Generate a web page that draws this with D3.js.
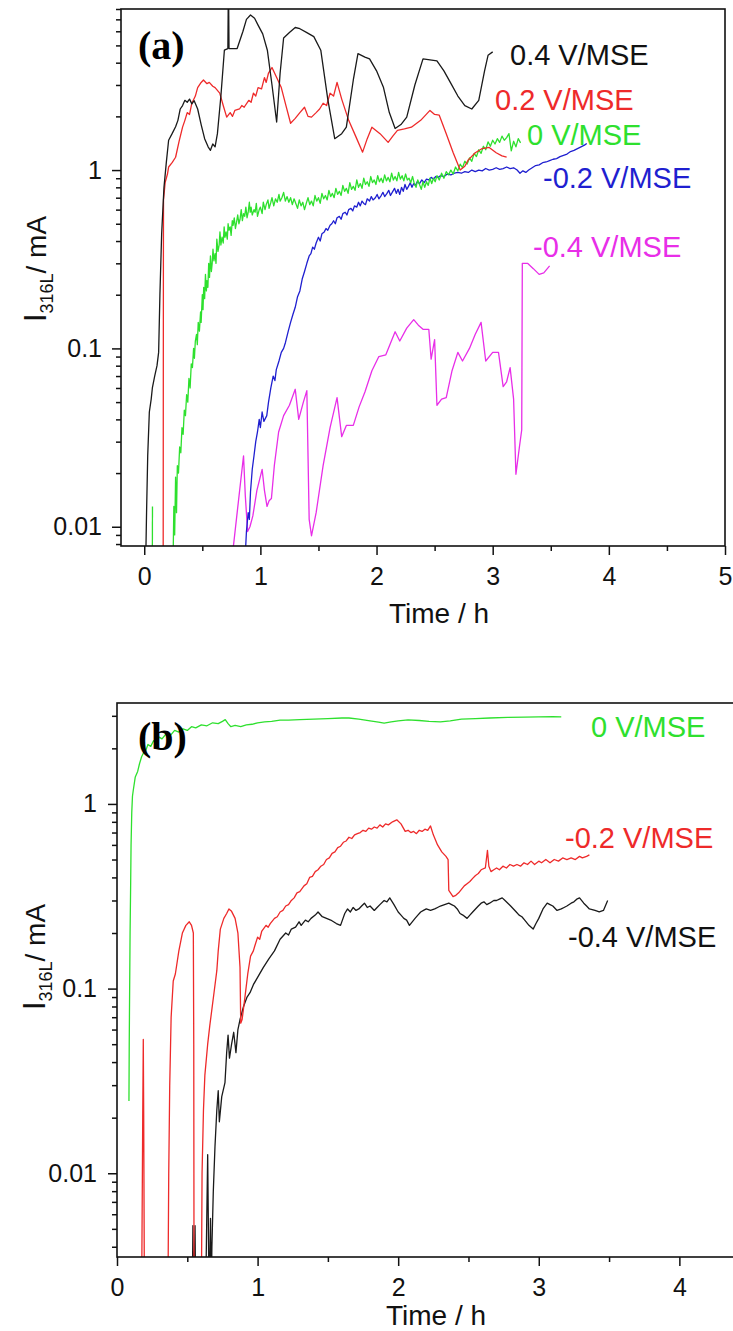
<!DOCTYPE html>
<html>
<head>
<meta charset="utf-8">
<script src="https://cdn.jsdelivr.net/npm/d3@7"></script>
<style>
  body { margin: 0; background: #fff; }
  svg { display: block; font-family: 'Liberation Sans', Arial, sans-serif; }
</style>
</head>
<body>
<svg></svg>
<script>
const width = 733;
const height = 1331;

// ---- panel (a): [time / h, I316L / mA] ----
const a_p04 = [[0.01,0.005],[0.02,0.012],[0.03,0.025],[0.044,0.044],[0.06,0.052],[0.07,0.06],[0.09,0.07],[0.11,0.08],[0.124,0.095],[0.135,0.2],[0.15,0.44],[0.17,0.8],[0.19,1.1],[0.21,1.47],[0.24,1.6],[0.27,1.75],[0.29,1.9],[0.31,2.2],[0.33,2.3],[0.35,2.46],[0.37,2.4],[0.39,2.5],[0.41,2.35],[0.43,2.45],[0.46,2.2],[0.49,1.8],[0.52,1.5],[0.55,1.35],[0.57,1.29],[0.59,1.4],[0.61,1.35],[0.63,1.6],[0.66,2.6],[0.69,4.7],[0.72,4.8],[0.725,12],[0.73,4.8],[0.8,4.8],[0.85,6.0],[0.88,7.0],[0.915,7.4],[0.95,7.1],[0.98,6.5],[1.02,5.8],[1.06,4.7],[1.1,3.0],[1.14,1.86],[1.17,3.5],[1.2,5.5],[1.25,5.9],[1.3,6.3],[1.34,6.2],[1.4,5.9],[1.46,5.6],[1.52,4.7],[1.58,2.5],[1.64,1.5],[1.7,1.6],[1.74,1.74],[1.8,3.2],[1.84,4.5],[1.9,4.3],[1.94,4.2],[2.0,3.6],[2.06,2.9],[2.11,2.1],[2.16,1.71],[2.21,1.8],[2.26,1.98],[2.33,3.0],[2.4,4.2],[2.46,4.15],[2.52,4.1],[2.58,3.6],[2.64,3.06],[2.7,2.6],[2.76,2.3],[2.82,2.2],[2.88,2.46],[2.93,3.6],[2.96,4.4],[3.0,4.6]];

const a_p02 = [[0.163,0.005],[0.165,0.3],[0.166,0.68],[0.18,0.85],[0.2,0.95],[0.21,1.04],[0.24,1.1],[0.27,1.18],[0.3,1.45],[0.33,1.74],[0.35,1.9],[0.37,2.1],[0.39,2.05],[0.41,2.37],[0.44,2.6],[0.46,2.9],[0.49,3.1],[0.51,3.2],[0.54,3.05],[0.56,3.1],[0.59,2.95],[0.61,2.9],[0.65,2.7],[0.68,2.3],[0.71,1.98],[0.74,2.1],[0.76,2.0],[0.78,2.16],[0.82,2.2],[0.84,2.3],[0.86,2.25],[0.9,2.46],[0.92,2.4],[0.94,2.7],[0.96,2.6],[0.98,2.9],[1.01,2.85],[1.035,3.3],[1.05,3.1],[1.07,3.5],[1.1,3.76],[1.14,3.3],[1.18,2.9],[1.22,2.3],[1.26,1.83],[1.3,1.95],[1.34,2.1],[1.38,2.25],[1.41,2.0],[1.44,1.98],[1.48,2.1],[1.51,2.2],[1.54,2.37],[1.57,2.3],[1.6,2.7],[1.63,2.6],[1.66,3.1],[1.7,2.5],[1.76,1.9],[1.82,1.55],[1.88,1.26],[1.92,1.5],[1.96,1.74],[2.03,1.6],[2.1,1.43],[2.14,1.55],[2.18,1.67],[2.24,1.7],[2.3,1.74],[2.38,1.9],[2.46,2.16],[2.5,2.05],[2.54,2.03],[2.6,1.6],[2.66,1.25],[2.72,1.0],[2.76,1.05],[2.79,1.14],[2.85,1.25],[2.91,1.32],[2.97,1.34],[3.03,1.25],[3.08,1.2],[3.12,1.18]];

const a_0 = [[0.25,0.0077],[0.255,0.013],[0.262,0.009],[0.27,0.019],[0.278,0.012],[0.285,0.022],[0.295,0.02],[0.305,0.028],[0.315,0.026],[0.325,0.036],[0.335,0.033],[0.345,0.045],[0.355,0.042],[0.365,0.055],[0.375,0.05],[0.385,0.068],[0.395,0.06],[0.405,0.082],[0.415,0.078],[0.425,0.1],[0.432,0.088],[0.44,0.11],[0.45,0.12],[0.457,0.105],[0.465,0.14],[0.475,0.125],[0.485,0.16],[0.49,0.14],[0.5,0.2],[0.506,0.165],[0.512,0.22],[0.52,0.19],[0.527,0.26],[0.535,0.21],[0.54,0.24],[0.548,0.22],[0.555,0.3],[0.562,0.25],[0.57,0.33],[0.578,0.27],[0.585,0.3],[0.592,0.36],[0.6,0.31],[0.61,0.34],[0.618,0.3],[0.625,0.41],[0.635,0.35],[0.645,0.38],[0.652,0.45],[0.66,0.38],[0.67,0.42],[0.68,0.39],[0.688,0.48],[0.695,0.42],[0.705,0.45],[0.715,0.41],[0.722,0.5],[0.73,0.46],[0.74,0.48],[0.748,0.43],[0.758,0.52],[0.765,0.49],[0.775,0.54],[0.785,0.47],[0.795,0.51],[0.805,0.56],[0.815,0.5],[0.825,0.53],[0.835,0.6],[0.845,0.52],[0.855,0.57],[0.865,0.55],[0.875,0.62],[0.885,0.54],[0.895,0.58],[0.905,0.66],[0.912,0.58],[0.92,0.62],[0.93,0.56],[0.945,0.6],[0.955,0.58],[0.965,0.65],[0.975,0.55],[0.99,0.6],[1.0,0.62],[1.015,0.57],[1.025,0.66],[1.04,0.6],[1.05,0.64],[1.065,0.68],[1.075,0.61],[1.09,0.66],[1.1,0.7],[1.115,0.63],[1.13,0.69],[1.145,0.66],[1.16,0.73],[1.17,0.67],[1.185,0.7],[1.2,0.75],[1.215,0.67],[1.23,0.71],[1.245,0.66],[1.26,0.7],[1.275,0.64],[1.29,0.69],[1.305,0.65],[1.32,0.61],[1.335,0.68],[1.35,0.63],[1.365,0.66],[1.38,0.6],[1.395,0.65],[1.41,0.7],[1.425,0.64],[1.44,0.67],[1.455,0.63],[1.47,0.72],[1.485,0.67],[1.5,0.7],[1.515,0.65],[1.53,0.74],[1.545,0.69],[1.56,0.72],[1.575,0.68],[1.59,0.77],[1.605,0.71],[1.62,0.74],[1.635,0.7],[1.65,0.79],[1.665,0.73],[1.68,0.76],[1.695,0.72],[1.71,0.82],[1.725,0.76],[1.74,0.79],[1.755,0.74],[1.77,0.85],[1.785,0.78],[1.8,0.81],[1.815,0.77],[1.83,0.88],[1.845,0.8],[1.86,0.84],[1.875,0.79],[1.89,0.9],[1.905,0.83],[1.92,0.86],[1.935,0.81],[1.95,0.92],[1.965,0.85],[1.98,0.88],[1.995,0.83],[2.01,0.93],[2.025,0.86],[2.04,0.9],[2.055,0.85],[2.07,0.94],[2.085,0.87],[2.1,0.91],[2.115,0.86],[2.13,0.96],[2.145,0.88],[2.16,0.92],[2.175,0.87],[2.19,0.97],[2.205,0.89],[2.22,0.93],[2.235,0.87],[2.25,0.95],[2.265,0.88],[2.28,0.9],[2.295,0.85],[2.31,0.92],[2.325,0.84],[2.34,0.8],[2.355,0.88],[2.37,0.83],[2.385,0.78],[2.4,0.86],[2.415,0.8],[2.43,0.86],[2.445,0.82],[2.46,0.9],[2.475,0.84],[2.49,0.9],[2.505,0.86],[2.52,0.93],[2.54,0.88],[2.56,0.96],[2.58,0.9],[2.6,0.98],[2.62,0.94],[2.64,1.0],[2.66,0.95],[2.68,1.04],[2.7,0.99],[2.72,1.08],[2.74,1.03],[2.76,1.12],[2.78,1.08],[2.8,1.17],[2.82,1.12],[2.84,1.24],[2.86,1.19],[2.88,1.3],[2.9,1.24],[2.92,1.36],[2.94,1.3],[2.96,1.44],[2.98,1.36],[3.0,1.47],[3.02,1.4],[3.04,1.5],[3.06,1.43],[3.08,1.55],[3.1,1.47],[3.12,1.52],[3.14,1.6],[3.16,1.28],[3.18,1.45],[3.2,1.35],[3.22,1.5],[3.24,1.42]];
const a_0blip = [[0.07,0.0077],[0.071,0.013]];

const a_m02 = [[0.87,0.007],[0.88,0.0094],[0.895,0.012],[0.905,0.011],[0.915,0.0157],[0.93,0.021],[0.945,0.025],[0.96,0.03],[0.975,0.034],[0.99,0.04],[1.0,0.036],[1.015,0.044],[1.03,0.039],[1.055,0.042],[1.07,0.05],[1.09,0.06],[1.11,0.07],[1.125,0.066],[1.137,0.076],[1.16,0.085],[1.18,0.095],[1.2,0.1],[1.216,0.108],[1.24,0.125],[1.26,0.14],[1.28,0.155],[1.3,0.17],[1.32,0.195],[1.34,0.21],[1.36,0.245],[1.38,0.27],[1.4,0.3],[1.42,0.33],[1.435,0.34],[1.45,0.37],[1.465,0.36],[1.48,0.39],[1.5,0.42],[1.515,0.4],[1.53,0.44],[1.55,0.45],[1.565,0.47],[1.58,0.46],[1.6,0.49],[1.615,0.5],[1.63,0.52],[1.645,0.5],[1.66,0.54],[1.68,0.55],[1.695,0.53],[1.71,0.57],[1.73,0.58],[1.745,0.56],[1.76,0.6],[1.78,0.61],[1.795,0.59],[1.81,0.63],[1.83,0.62],[1.845,0.66],[1.86,0.63],[1.875,0.67],[1.89,0.65],[1.905,0.64],[1.92,0.69],[1.94,0.67],[1.955,0.71],[1.97,0.68],[1.99,0.7],[2.005,0.73],[2.02,0.69],[2.04,0.72],[2.055,0.75],[2.07,0.71],[2.09,0.74],[2.105,0.77],[2.12,0.72],[2.14,0.76],[2.155,0.79],[2.17,0.74],[2.185,0.78],[2.2,0.73],[2.215,0.8],[2.23,0.76],[2.245,0.83],[2.26,0.78],[2.275,0.81],[2.29,0.85],[2.305,0.8],[2.32,0.84],[2.335,0.82],[2.35,0.86],[2.37,0.84],[2.39,0.88],[2.41,0.85],[2.43,0.89],[2.45,0.88],[2.47,0.91],[2.49,0.89],[2.51,0.92],[2.53,0.91],[2.55,0.93],[2.58,0.92],[2.61,0.95],[2.64,0.94],[2.67,0.96],[2.7,0.97],[2.73,0.96],[2.76,0.98],[2.79,0.97],[2.82,1.0],[2.85,0.98],[2.88,1.0],[2.91,0.99],[2.94,1.02],[2.97,1.0],[3.0,1.01],[3.03,1.03],[3.06,1.01],[3.09,1.02],[3.12,1.04],[3.15,1.02],[3.18,1.03],[3.21,1.0],[3.235,0.96],[3.26,0.99],[3.285,0.97],[3.31,1.0],[3.34,1.03],[3.37,1.06],[3.4,1.07],[3.43,1.1],[3.46,1.11],[3.49,1.13],[3.52,1.15],[3.55,1.16],[3.58,1.19],[3.61,1.21],[3.64,1.23],[3.67,1.27],[3.7,1.29],[3.73,1.32],[3.76,1.35],[3.79,1.38],[3.81,1.41]];

const a_m04 = [[0.735,0.005],[0.8,0.012],[0.855,0.025],[0.87,0.015],[0.89,0.0094],[0.91,0.01],[0.935,0.0115],[0.97,0.016],[1.015,0.021],[1.035,0.016],[1.057,0.013],[1.075,0.014],[1.095,0.0144],[1.12,0.022],[1.157,0.034],[1.2,0.042],[1.25,0.048],[1.3,0.059],[1.33,0.04],[1.37,0.05],[1.4,0.058],[1.42,0.011],[1.44,0.0089],[1.48,0.012],[1.54,0.022],[1.6,0.036],[1.66,0.053],[1.70,0.032],[1.74,0.037],[1.8,0.037],[1.85,0.047],[1.9,0.057],[1.96,0.075],[2.02,0.09],[2.08,0.092],[2.16,0.124],[2.2,0.11],[2.26,0.13],[2.32,0.145],[2.36,0.135],[2.4,0.128],[2.45,0.128],[2.47,0.087],[2.5,0.112],[2.52,0.048],[2.56,0.052],[2.6,0.053],[2.65,0.075],[2.7,0.095],[2.74,0.085],[2.8,0.1],[2.85,0.12],[2.9,0.14],[2.94,0.085],[3.0,0.095],[3.05,0.095],[3.09,0.061],[3.12,0.065],[3.15,0.078],[3.18,0.052],[3.2,0.0197],[3.23,0.028],[3.25,0.035],[3.255,0.3],[3.3,0.3],[3.35,0.28],[3.4,0.26],[3.44,0.265],[3.49,0.29]];

// ---- panel (b) ----
const b_0 = [[0.085,0.0246],[0.087,0.05],[0.09,0.1],[0.093,0.2],[0.097,0.36],[0.1,0.6],[0.105,0.9],[0.11,1.1],[0.116,1.19],[0.13,1.4],[0.147,1.5],[0.16,1.65],[0.175,1.8],[0.19,1.9],[0.205,1.95],[0.22,2.1],[0.24,2.05],[0.26,2.2],[0.28,2.15],[0.30,2.3],[0.32,2.25],[0.35,2.4],[0.38,2.35],[0.41,2.5],[0.44,2.45],[0.47,2.55],[0.50,2.5],[0.53,2.62],[0.56,2.58],[0.6,2.68],[0.64,2.65],[0.68,2.75],[0.72,2.72],[0.75,2.8],[0.77,2.86],[0.79,2.72],[0.81,2.62],[0.84,2.66],[0.88,2.62],[0.92,2.68],[0.96,2.7],[1.0,2.75],[1.05,2.78],[1.1,2.8],[1.16,2.84],[1.22,2.84],[1.3,2.86],[1.4,2.88],[1.5,2.9],[1.6,2.92],[1.65,2.92],[1.72,2.88],[1.8,2.82],[1.86,2.77],[1.9,2.74],[1.95,2.78],[2.0,2.82],[2.07,2.85],[2.15,2.83],[2.22,2.8],[2.3,2.78],[2.37,2.82],[2.45,2.88],[2.55,2.9],[2.65,2.92],[2.78,2.94],[2.9,2.95],[3.0,2.96],[3.1,2.97],[3.16,2.96]];

const b_m02 = [[0.175,0.002],[0.183,0.02],[0.187,0.053],[0.19,0.02],[0.195,0.002],[0.362,0.002],[0.368,0.01],[0.375,0.03],[0.385,0.07],[0.40,0.11],[0.415,0.12],[0.44,0.16],[0.465,0.2],[0.49,0.22],[0.514,0.23],[0.53,0.22],[0.543,0.2],[0.546,0.05],[0.548,0.002],[0.60,0.002],[0.605,0.01],[0.615,0.022],[0.625,0.034],[0.645,0.05],[0.66,0.063],[0.69,0.095],[0.71,0.125],[0.72,0.16],[0.735,0.21],[0.76,0.24],[0.78,0.255],[0.796,0.27],[0.815,0.262],[0.84,0.24],[0.86,0.2],[0.875,0.13],[0.88,0.065],[0.89,0.068],[0.91,0.09],[0.93,0.12],[0.95,0.15],[0.97,0.16],[0.98,0.17],[1.0,0.19],[1.015,0.185],[1.03,0.205],[1.06,0.22],[1.075,0.215],[1.09,0.225],[1.12,0.24],[1.14,0.245],[1.16,0.26],[1.18,0.265],[1.2,0.28],[1.22,0.285],[1.24,0.3],[1.26,0.31],[1.28,0.33],[1.3,0.335],[1.33,0.36],[1.35,0.37],[1.37,0.4],[1.39,0.405],[1.41,0.43],[1.43,0.44],[1.45,0.46],[1.47,0.47],[1.49,0.5],[1.51,0.51],[1.53,0.54],[1.55,0.55],[1.57,0.58],[1.59,0.59],[1.61,0.62],[1.63,0.63],[1.65,0.66],[1.67,0.65],[1.69,0.68],[1.71,0.69],[1.73,0.7],[1.75,0.72],[1.77,0.71],[1.79,0.74],[1.81,0.73],[1.83,0.75],[1.85,0.74],[1.87,0.77],[1.89,0.75],[1.91,0.78],[1.93,0.77],[1.96,0.8],[1.99,0.82],[2.02,0.78],[2.05,0.71],[2.07,0.72],[2.09,0.7],[2.11,0.71],[2.13,0.69],[2.15,0.72],[2.17,0.71],[2.19,0.73],[2.21,0.72],[2.23,0.76],[2.25,0.68],[2.28,0.6],[2.31,0.55],[2.34,0.52],[2.355,0.5],[2.36,0.34],[2.39,0.315],[2.41,0.32],[2.43,0.33],[2.45,0.345],[2.47,0.36],[2.49,0.37],[2.51,0.38],[2.53,0.395],[2.55,0.41],[2.57,0.42],[2.59,0.44],[2.62,0.45],[2.635,0.56],[2.645,0.46],[2.66,0.43],[2.68,0.44],[2.7,0.45],[2.72,0.44],[2.745,0.46],[2.77,0.45],[2.795,0.47],[2.82,0.46],[2.845,0.47],[2.87,0.46],[2.895,0.48],[2.92,0.47],[2.945,0.49],[2.97,0.47],[3.0,0.49],[3.02,0.48],[3.05,0.5],[3.08,0.48],[3.11,0.5],[3.14,0.49],[3.17,0.51],[3.2,0.5],[3.23,0.51],[3.26,0.5],[3.29,0.52],[3.31,0.51],[3.34,0.52],[3.36,0.53]];

const b_m04 = [[0.535,0.002],[0.54,0.0052],[0.545,0.002],[0.555,0.0052],[0.56,0.002],[0.63,0.002],[0.645,0.0126],[0.655,0.002],[0.665,0.0057],[0.67,0.002],[0.675,0.004],[0.685,0.008],[0.697,0.014],[0.71,0.022],[0.72,0.028],[0.728,0.019],[0.745,0.026],[0.768,0.031],[0.78,0.045],[0.79,0.056],[0.80,0.042],[0.815,0.05],[0.83,0.058],[0.846,0.045],[0.86,0.06],[0.875,0.068],[0.9,0.08],[0.925,0.09],[0.946,0.095],[0.97,0.105],[1.0,0.115],[1.04,0.13],[1.08,0.145],[1.12,0.16],[1.16,0.185],[1.2,0.2],[1.22,0.195],[1.24,0.21],[1.27,0.215],[1.295,0.23],[1.31,0.22],[1.34,0.235],[1.36,0.23],[1.38,0.24],[1.41,0.25],[1.43,0.26],[1.46,0.245],[1.49,0.24],[1.52,0.235],[1.56,0.225],[1.59,0.22],[1.62,0.255],[1.64,0.27],[1.66,0.26],[1.68,0.275],[1.7,0.265],[1.72,0.27],[1.74,0.28],[1.76,0.29],[1.78,0.275],[1.8,0.28],[1.83,0.265],[1.85,0.275],[1.87,0.285],[1.9,0.3],[1.92,0.295],[1.94,0.31],[1.97,0.285],[2.0,0.26],[2.02,0.25],[2.04,0.24],[2.06,0.235],[2.08,0.22],[2.1,0.23],[2.12,0.24],[2.14,0.25],[2.16,0.26],[2.18,0.265],[2.2,0.27],[2.23,0.265],[2.26,0.27],[2.28,0.275],[2.3,0.28],[2.33,0.285],[2.36,0.29],[2.38,0.285],[2.4,0.28],[2.42,0.27],[2.44,0.255],[2.46,0.25],[2.49,0.24],[2.51,0.25],[2.53,0.26],[2.55,0.27],[2.57,0.28],[2.59,0.29],[2.61,0.295],[2.63,0.285],[2.65,0.29],[2.68,0.3],[2.7,0.3],[2.72,0.305],[2.74,0.31],[2.76,0.3],[2.78,0.29],[2.8,0.28],[2.82,0.27],[2.84,0.26],[2.86,0.25],[2.88,0.245],[2.9,0.235],[2.93,0.22],[2.96,0.21],[2.98,0.225],[3.0,0.24],[3.03,0.27],[3.06,0.29],[3.08,0.285],[3.1,0.28],[3.13,0.265],[3.16,0.27],[3.18,0.275],[3.2,0.28],[3.23,0.29],[3.25,0.295],[3.27,0.305],[3.29,0.31],[3.32,0.29],[3.34,0.28],[3.36,0.27],[3.38,0.268],[3.4,0.265],[3.43,0.26],[3.46,0.265],[3.49,0.3]];

const xTicksA = [0, 1, 2, 3, 4, 5];
const xTicksB = [0, 1, 2, 3, 4];
const yTicks = [0.01, 0.1, 1];

const col = { black: '#1a1a1a', red: '#ee2a2a', green: '#2ee02e', blue: '#1f1fd0', magenta: '#e82ee8' };

const svg = d3.select('svg')
  .attr('width', width)
  .attr('height', height);

const line = (x, y) => d3.line().x(d => x(d[0])).y(d => y(d[1]));

function drawPanel(p) {
  const g = svg.append('g');
  const [x0, x1] = p.x.range();
  const [y0, y1] = p.y.range();

  g.append('clipPath').attr('id', p.id)
    .append('rect')
      .attr('x', x0).attr('y', y1)
      .attr('width', x1 - x0).attr('height', y0 - y1);

  p.series.forEach(s => {
    g.append('path')
      .datum(s.data)
      .attr('clip-path', `url(#${p.id})`)
      .attr('fill', 'none')
      .attr('stroke', s.color)
      .attr('stroke-width', 1.3)
      .attr('stroke-linejoin', 'round')
      .attr('d', line(p.x, p.y));
  });

  // minor log ticks
  const yd = p.y.domain();
  const yMinor = [0.001, 0.01, 0.1, 1]
    .flatMap(d => d3.range(2, 10).map(k => k * d))
    .filter(v => v >= yd[0] && v <= yd[1]);
  const xd = p.x.domain();
  const xMinor = d3.range(0.5, xd[1], 1);

  const axes = [
    d3.axisLeft(p.y).tickValues(yMinor).tickSize(5).tickFormat(''),
    d3.axisLeft(p.y).tickValues(yTicks).tickSize(9).tickPadding(p.yPad).tickFormat(d => String(d))
  ];
  axes.forEach(a => {
    g.append('g').attr('transform', `translate(${x0},0)`).call(a);
  });
  const xaxes = [
    d3.axisBottom(p.x).tickValues(xMinor).tickSize(5).tickFormat(''),
    d3.axisBottom(p.x).tickValues(p.xTicks).tickSize(9).tickPadding(12).tickFormat(d3.format('d'))
  ];
  xaxes.forEach(a => {
    g.append('g').attr('transform', `translate(0,${y0})`).call(a);
  });

  g.selectAll('.domain').remove();
  g.selectAll('.tick line').attr('stroke', '#111').attr('stroke-width', 1.5);
  g.selectAll('.tick text')
    .attr('fill', '#111')
    .style('font-size', '25px')
    .style('font-family', "'Liberation Sans', Arial, sans-serif");

  g.append('rect')
    .attr('x', x0).attr('y', y1)
    .attr('width', x1 - x0).attr('height', y0 - y1)
    .attr('fill', 'none')
    .attr('stroke', '#111')
    .attr('stroke-width', 1.6);

  // axis titles
  g.append('text')
    .attr('x', p.xTitle[0]).attr('y', p.xTitle[1])
    .attr('text-anchor', 'middle')
    .style('font-size', '28px')
    .attr('fill', '#111')
    .text('Time / h');

  const yl = g.append('text')
    .attr('transform', `translate(${p.yTitle[0]},${p.yTitle[1]}) rotate(-90)`)
    .attr('text-anchor', 'middle')
    .attr('fill', '#111');
  yl.append('tspan').style('font-size', '31px').text('I');
  yl.append('tspan').style('font-size', '18px').attr('dy', 7).text('316L');
  yl.append('tspan').style('font-size', '28px').attr('dy', -7).text('/ mA');

  g.append('text')
    .attr('x', 138).attr('y', p.tag[1])
    .style('font-family', "'Liberation Serif', 'Times New Roman', serif")
    .style('font-weight', 'bold')
    .style('font-size', '40px')
    .attr('fill', '#000')
    .text(p.tag[0]);

  p.labels.forEach(l => {
    g.append('text')
      .attr('x', l.x).attr('y', l.y)
      .style('font-size', '29px')
      .attr('fill', l.color)
      .text(l.text);
  });
}

drawPanel({
  id: 'clipA',
  x: d3.scaleLinear().domain([-0.2, 5]).range([121, 725]),
  y: d3.scaleLog().domain([0.0078, 8.0]).range([546, 9]),
  xTicks: xTicksA,
  yPad: 10,
  xTitle: [439, 623],
  yTitle: [46, 269],
  tag: ['(a)', 59],
  series: [
    { data: a_0blip, color: col.green },
    { data: a_m04, color: col.magenta },
    { data: a_m02, color: col.blue },
    { data: a_0, color: col.green },
    { data: a_p02, color: col.red },
    { data: a_p04, color: col.black }
  ],
  labels: [
    { text: '0.4 V/MSE', x: 510, y: 65, color: '#111' },
    { text: '0.2 V/MSE', x: 495, y: 110, color: col.red },
    { text: '0 V/MSE', x: 527, y: 145, color: col.green },
    { text: '-0.2 V/MSE', x: 543, y: 188, color: col.blue },
    { text: '-0.4 V/MSE', x: 533, y: 257, color: col.magenta }
  ]
});

drawPanel({
  id: 'clipB',
  x: d3.scaleLinear().domain([0, 4.4]).range([117, 735.6]),
  y: d3.scaleLog().domain([0.00352, 3.52]).range([1257, 703]),
  xTicks: xTicksB,
  yPad: 11,
  xTitle: [436, 1325],
  yTitle: [45, 957],
  tag: ['(b)', 750],
  series: [
    { data: b_m04, color: col.black },
    { data: b_m02, color: col.red },
    { data: b_0, color: col.green }
  ],
  labels: [
    { text: '0 V/MSE', x: 591, y: 737, color: col.green },
    { text: '-0.2 V/MSE', x: 565, y: 848, color: col.red },
    { text: '-0.4 V/MSE', x: 568, y: 947, color: '#111' }
  ]
});
</script>
</body>
</html>
